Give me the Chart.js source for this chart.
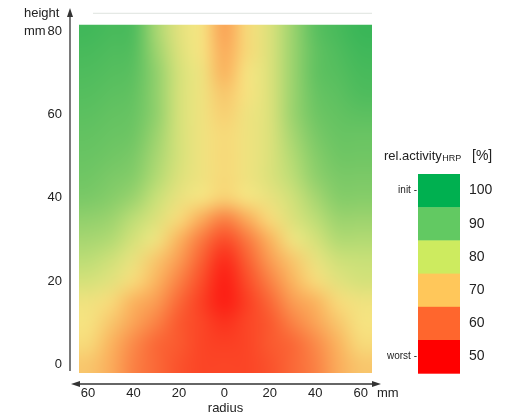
<!DOCTYPE html>
<html>
<head>
<meta charset="utf-8">
<script src="https://cdn.jsdelivr.net/npm/chart.js@4.4.1/dist/chart.umd.min.js"></script>
<style>
  body { margin: 0; background: #fff; }
</style>
</head>
<body>
<canvas id="myChart" width="507" height="416"></canvas>
<script>
// radius columns (mm) and height rows (mm, top to bottom)
const radii = [-60, -50, -40, -30, -20, -10, 0, 10, 20, 30, 40, 50, 60];
const heights = [80, 75, 70, 65, 60, 55, 50, 45, 40, 35, 30, 25, 20, 15, 10, 5, 0];

// rel. activity HRP [%], one row per height
const activity = [
  [97, 96, 95, 85, 78, 75, 68, 74, 79, 86, 93, 96, 98],
  [96, 95, 94, 86, 79, 75, 69, 74, 79, 86, 92, 95, 97],
  [95, 94, 93, 87, 80, 76, 70, 75, 79, 86, 92, 94, 96],
  [94, 93, 92, 87, 80, 76, 72, 75, 79, 86, 91, 93, 95],
  [93, 92, 91, 87, 80, 76, 73, 76, 79, 86, 90, 92, 93],
  [92, 91, 90, 86, 80, 76, 74, 76, 79, 85, 89, 91, 91],
  [91, 90, 89, 85, 80, 76, 74, 76, 79, 84, 88, 90, 90],
  [90, 89, 88, 84, 79, 76, 74, 76, 79, 83, 87, 89, 89],
  [89, 88, 86, 82, 77, 75, 73, 75, 77, 81, 85, 88, 88],
  [87, 86, 83, 79, 74, 69, 64, 69, 74, 79, 83, 86, 86],
  [85, 84, 80, 76, 70, 63, 57, 63, 70, 76, 80, 84, 84],
  [83, 81, 77, 72, 67, 60, 52, 60, 67, 72, 77, 81, 82],
  [80, 78, 74, 70, 64, 57, 50, 57, 64, 70, 74, 78, 80],
  [76, 74, 70, 67, 61, 55, 50, 55, 61, 67, 70, 74, 76],
  [75, 72, 68, 64, 59, 56, 53, 56, 59, 64, 68, 72, 75],
  [74, 70, 65, 61, 59, 56, 55, 56, 59, 61, 65, 70, 74],
  [72, 69, 64, 61, 58, 56, 56, 56, 58, 61, 64, 69, 72],
];

const xTicks = [-60, -40, -20, 0, 20, 40, 60];
const yTicks = [0, 20, 40, 60, 80];

const legendLevels = [100, 90, 80, 70, 60, 50];
const legendColors = ['#00b050', '#62c962', '#cdeb5f', '#ffc75a', '#ff662d', '#ff0000'];

// colour ramp used for the field (value -> rgb)
const fieldStops = [
  [50, [252, 30, 20]],
  [60, [250, 95, 50]],
  [70, [250, 180, 95]],
  [75, [246, 226, 128]],
  [82, [200, 224, 120]],
  [90, [112, 198, 100]],
  [100, [45, 178, 85]],
];

const FONT = 'Arial, "Liberation Sans", sans-serif';

function colorFor(v) {
  if (v <= fieldStops[0][0]) return fieldStops[0][1];
  for (let i = 1; i < fieldStops.length; i++) {
    const [v1, c1] = fieldStops[i];
    const [v0, c0] = fieldStops[i - 1];
    if (v <= v1) {
      const t = (v - v0) / (v1 - v0);
      return c0.map((c, k) => Math.round(c + (c1[k] - c) * t));
    }
  }
  return fieldStops[fieldStops.length - 1][1];
}

const points = [];
heights.forEach((h, r) => {
  radii.forEach((x, c) => {
    points.push({ x, y: h, v: activity[r][c] });
  });
});

// small image, one pixel per grid point, scaled up smoothly over the plot
function buildField() {
  const off = document.createElement('canvas');
  off.width = radii.length;
  off.height = heights.length;
  const octx = off.getContext('2d');
  const img = octx.createImageData(off.width, off.height);
  heights.forEach((h, r) => {
    radii.forEach((x, c) => {
      const [R, G, B] = colorFor(activity[r][c]);
      const i = (r * off.width + c) * 4;
      img.data[i] = R;
      img.data[i + 1] = G;
      img.data[i + 2] = B;
      img.data[i + 3] = 255;
    });
  });
  octx.putImageData(img, 0, 0);
  return off;
}
const fieldImage = buildField();

const fieldPlugin = {
  id: 'field',
  beforeDatasetsDraw(chart) {
    const { ctx, chartArea, scales } = chart;
    const dx = (radii[1] - radii[0]) / 2;
    const dy = (heights[0] - heights[1]) / 2;
    const x0 = scales.x.getPixelForValue(radii[0] - dx);
    const x1 = scales.x.getPixelForValue(radii[radii.length - 1] + dx);
    const y0 = scales.y.getPixelForValue(heights[0] + dy);
    const y1 = scales.y.getPixelForValue(heights[heights.length - 1] - dy);
    ctx.save();
    ctx.beginPath();
    ctx.rect(chartArea.left, chartArea.top, chartArea.right - chartArea.left, chartArea.bottom - chartArea.top);
    ctx.clip();
    ctx.imageSmoothingEnabled = true;
    ctx.imageSmoothingQuality = 'high';
    ctx.drawImage(fieldImage, x0, y0, x1 - x0, y1 - y0);
    ctx.restore();
  },
};

function arrowHead(ctx, x, y, dir) {
  // dir: 'up', 'left', 'right'
  ctx.beginPath();
  if (dir === 'up') {
    ctx.moveTo(x, y);
    ctx.lineTo(x - 3, y + 9);
    ctx.lineTo(x + 3, y + 9);
  } else if (dir === 'left') {
    ctx.moveTo(x, y);
    ctx.lineTo(x + 9, y - 3);
    ctx.lineTo(x + 9, y + 3);
  } else {
    ctx.moveTo(x, y);
    ctx.lineTo(x - 9, y - 3);
    ctx.lineTo(x - 9, y + 3);
  }
  ctx.closePath();
  ctx.fill();
}

const decorPlugin = {
  id: 'decor',
  afterDraw(chart) {
    const { ctx, chartArea, scales } = chart;
    ctx.save();
    ctx.fillStyle = '#333';

    // faint line above the field
    ctx.strokeStyle = 'rgba(200,210,200,0.6)';
    ctx.lineWidth = 1;
    ctx.beginPath();
    ctx.moveTo(93, chartArea.top - 11.5);
    ctx.lineTo(chartArea.right, chartArea.top - 11.5);
    ctx.stroke();

    // y axis arrow
    ctx.strokeStyle = '#333';
    ctx.lineWidth = 1.3;
    const ax = chartArea.left - 9;
    ctx.beginPath();
    ctx.moveTo(ax, chartArea.bottom - 2);
    ctx.lineTo(ax, 14);
    ctx.stroke();
    arrowHead(ctx, ax, 8, 'up');

    // x axis double arrow
    const ay = chartArea.bottom + 11;
    ctx.beginPath();
    ctx.moveTo(76, ay);
    ctx.lineTo(376, ay);
    ctx.stroke();
    arrowHead(ctx, 71, ay, 'left');
    arrowHead(ctx, 381, ay, 'right');

    // axis captions
    ctx.fillStyle = '#222';
    ctx.font = '13px ' + FONT;
    ctx.textBaseline = 'middle';
    ctx.textAlign = 'left';
    ctx.fillText('height', 24, 13);
    ctx.fillText('mm', 24, scales.y.getPixelForValue(80));
    ctx.fillText('mm', 377, 393);

    // legend title with subscript
    ctx.textBaseline = 'alphabetic';
    ctx.fillText('rel.activity', 384, 160);
    const tx = 384 + ctx.measureText('rel.activity').width;
    ctx.font = '9px ' + FONT;
    ctx.fillText('HRP', tx + 0.5, 160.5);
    ctx.font = '14px ' + FONT;
    ctx.fillText('[%]', 472, 160);

    // legend colour blocks
    const bx = 418;
    const bw = 42;
    const by = 174;
    const bh = 33.2;
    ctx.textBaseline = 'middle';
    legendLevels.forEach((lvl, i) => {
      ctx.fillStyle = legendColors[i];
      ctx.fillRect(bx, by + i * bh, bw, bh + 0.5);
      ctx.fillStyle = '#222';
      ctx.font = '14px ' + FONT;
      ctx.textAlign = 'left';
      ctx.fillText(String(lvl), 469, by + i * bh + bh / 2);
    });
    ctx.font = '10px ' + FONT;
    ctx.textAlign = 'right';
    ctx.fillText('init -', bx - 1, by + bh / 2);
    ctx.fillText('worst -', bx - 1, by + 5 * bh + bh / 2);
    ctx.restore();
  },
};

const config = {
  type: 'scatter',
  data: {
    datasets: [
      {
        label: 'rel. activity HRP',
        data: points,
        pointRadius: 0,
        pointHoverRadius: 0,
      },
    ],
  },
  options: {
    responsive: false,
    animation: false,
    devicePixelRatio: 1,
    layout: { padding: { top: 22, right: 135, left: 0, bottom: 0 } },
    plugins: {
      legend: { display: false },
      tooltip: { enabled: false },
    },
    scales: {
      x: {
        type: 'linear',
        min: -64,
        max: 65,
        grid: { display: false, drawTicks: false },
        border: { display: false },
        afterBuildTicks: (scale) => {
          scale.ticks = xTicks.map((value) => ({ value }));
        },
        afterFit: (scale) => {
          scale.height = 43;
        },
        ticks: {
          autoSkip: false,
          maxRotation: 0,
          padding: 13,
          color: '#222',
          font: { family: FONT, size: 13 },
          callback: (v) => Math.abs(v),
        },
        title: {
          display: true,
          text: 'radius',
          color: '#222',
          font: { family: FONT, size: 13 },
          padding: 0,
        },
      },
      y: {
        type: 'linear',
        min: -2,
        max: 81.5,
        grid: { display: false, drawTicks: false },
        border: { display: false },
        afterBuildTicks: (scale) => {
          scale.ticks = yTicks.map((value) => ({ value }));
        },
        afterFit: (scale) => {
          scale.width = 79;
        },
        ticks: {
          autoSkip: false,
          padding: 17,
          color: '#222',
          font: { family: FONT, size: 13 },
        },
      },
    },
  },
  plugins: [fieldPlugin, decorPlugin],
};

const myChart = new Chart(document.getElementById('myChart'), config);
</script>
</body>
</html>
